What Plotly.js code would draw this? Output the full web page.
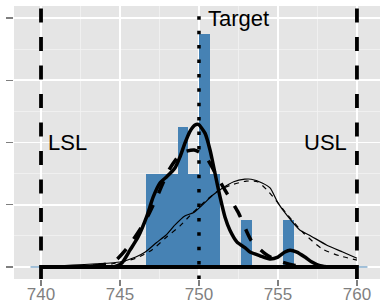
<!DOCTYPE html>
<html>
<head>
<meta charset="utf-8">
<script src="https://cdn.plot.ly/plotly-3.0.1.min.js"></script>
<style>
html,body{margin:0;padding:0;background:#fff;}
#chart{width:381px;height:305px;}
</style>
</head>
<body>
<div id="chart"></div>
<script>
// ---- Data ----
// Histogram: 32 bins of width 2/3 starting at 739.333
var binStart = 739 + 1/3;
var binWidth = 2/3;
var counts = [0,0,0,0,0,0,0,0,0,0,0,2,2,2,3,2,5,2,0,0,1,0,0,0,1,0,0,0,0,0,0,0];

// Specification limits
var LSL = 740, TARGET = 750, USL = 760;
var specLabels = ["LSL", "Target", "USL"];

// Kernel density of the sample (thick solid)
var kdeX = [740, 744.0, 744.7, 745.11, 745.63, 746.16, 746.69, 747.11, 747.53, 747.96, 748.48, 748.80, 749.11, 749.43, 749.75, 749.96, 750.38, 750.70, 751.01, 751.33, 751.65, 751.96, 752.41, 752.91, 753.23, 753.86, 754.49, 755.0, 755.44, 755.76, 756.20, 756.71, 757.15, 757.66, 758.3, 760];
var kdeY = [0, 0, 0.001, 0.006, 0.027, 0.049, 0.081, 0.113, 0.135, 0.145, 0.159, 0.177, 0.199, 0.218, 0.228, 0.229, 0.215, 0.188, 0.151, 0.113, 0.080, 0.059, 0.040, 0.031, 0.024, 0.018, 0.013, 0.016, 0.024, 0.027, 0.024, 0.016, 0.008, 0.002, 0, 0];

// Normal fit of the sample (thick dashed)
var normX = [740, 742.5, 743.5, 744.6, 745.5, 746.6, 747.4, 748.1, 748.9, 749.7, 750.4, 751.2, 751.8, 752.5, 753.3, 754.2, 755.0, 756.0, 757.0, 760];
var normY = [0, 0, 0.002, 0.008, 0.032, 0.074, 0.116, 0.156, 0.183, 0.188, 0.178, 0.143, 0.117, 0.087, 0.043, 0.021, 0.010, 0.003, 0, 0];

// Process density (thin solid)
var procX = [740, 742.0, 743.5, 745.0, 746.0, 746.6, 747.3, 747.9, 748.5, 749.1, 749.7, 750.9, 751.5, 752.2, 752.9, 753.3, 754.0, 754.5, 755.0, 755.6, 756.4, 757.0, 758.1, 759.1, 760];
var procY = [0, 0.003, 0.005, 0.008, 0.016, 0.024, 0.039, 0.051, 0.068, 0.082, 0.088, 0.116, 0.127, 0.137, 0.141, 0.141, 0.135, 0.127, 0.103, 0.082, 0.059, 0.051, 0.035, 0.024, 0.014];

// Process normal-type density (thin dashed)
var proc2X = [740, 742.5, 744.5, 746.0, 747.0, 747.9, 748.8, 749.6, 750.5, 751.3, 752.2, 753.0, 753.7, 754.3, 755.0, 755.6, 756.6, 757.8, 758.9, 760];
var proc2Y = [0, 0.002, 0.005, 0.014, 0.027, 0.047, 0.066, 0.087, 0.108, 0.124, 0.133, 0.138, 0.137, 0.124, 0.103, 0.084, 0.055, 0.029, 0.018, 0.011];

// ---- Build traces ----
var n = counts.reduce(function(a,b){return a+b;}, 0);
var centers = counts.map(function(_, i){ return binStart + (i + 0.5) * binWidth; });
var dens = counts.map(function(c){ return c / (n * binWidth); });
var binEnd = binStart + counts.length * binWidth;

var steel = "#4682B4";
var traces = [
  {type:"bar", x:centers, y:dens, width:binWidth, marker:{color:steel, line:{width:0}}, hoverinfo:"skip"},
  {type:"scatter", mode:"lines", x:[binStart, binEnd], y:[0,0], line:{color:steel, width:1}, hoverinfo:"skip"},
  {type:"scatter", mode:"lines", x:procX, y:procY, line:{color:"#000", width:1.2, shape:"spline", smoothing:0.6}, hoverinfo:"skip"},
  {type:"scatter", mode:"lines", x:proc2X, y:proc2Y, line:{color:"#000", width:1.2, dash:"5px,5px", shape:"spline", smoothing:0.6}, hoverinfo:"skip"},
  {type:"scatter", mode:"lines", x:normX, y:normY, line:{color:"#000", width:3.5, dash:"13px,13px", shape:"spline", smoothing:0.6}, hoverinfo:"skip"},
  {type:"scatter", mode:"lines", x:kdeX, y:kdeY, line:{color:"#000", width:3.5, shape:"spline", smoothing:0.6}, hoverinfo:"skip"},
  // baseline of the density area outline
  {type:"scatter", mode:"lines", x:[kdeX[0], kdeX[kdeX.length-1]], y:[0,0], line:{color:"#000", width:4}, hoverinfo:"skip"}
];

var limits = [LSL, TARGET, USL];
var shapes = limits.map(function(v, i){
  return {type:"line", xref:"x", yref:"paper", x0:v, x1:v, y0:0, y1:1, layer:"above",
    line:{color:"#000", width: i === 1 ? 3.5 : 3.8, dash: i === 1 ? "3.5px,10.9px" : "14px,14.5px"}};
});

var annFont = {family:"Liberation Sans, Arial, sans-serif", size:22, color:"#000"};
var annotations = [
  {x:LSL, y:0.2, xref:"x", yref:"y", text:specLabels[0], showarrow:false, xanchor:"left", yanchor:"middle", xshift:4.5, font:annFont},
  {x:TARGET, y:0.4, xref:"x", yref:"y", text:specLabels[1], showarrow:false, xanchor:"left", yanchor:"middle", xshift:7.5, font:annFont},
  {x:USL, y:0.2, xref:"x", yref:"y", text:specLabels[2], showarrow:false, xanchor:"right", yanchor:"middle", xshift:-8, font:annFont}
];

var layout = {
  width:381, height:305,
  margin:{l:14, r:1, t:6, b:26, pad:0},
  paper_bgcolor:"#fff", plot_bgcolor:"#E5E5E5",
  showlegend:false, bargap:0,
  xaxis:{range:[738.29, 761.46], tickmode:"linear", tick0:740, dtick:5,
    showgrid:true, gridcolor:"#fff", gridwidth:1.6, zeroline:false, showline:false,
    ticks:"outside", ticklen:6, tickwidth:1.4, tickcolor:"#7F7F7F", ticklabelstandoff:-6,
    tickfont:{family:"Liberation Sans, Arial, sans-serif", size:17, color:"#7F7F7F"},
    minor:{dtick:2.5, tick0:740, showgrid:true, gridcolor:"#F2F2F2", gridwidth:0.8, ticks:""}},
  yaxis:{range:[-0.0193, 0.4193], tickmode:"linear", tick0:0, dtick:0.1,
    showgrid:true, gridcolor:"#fff", gridwidth:1.6, zeroline:false, showline:false,
    ticks:"outside", ticklen:7, tickwidth:1.4, tickcolor:"#7F7F7F", showticklabels:false,
    minor:{dtick:0.05, tick0:0, showgrid:true, gridcolor:"#F2F2F2", gridwidth:0.8, ticks:""}},
  shapes:shapes,
  annotations:annotations
};

Plotly.newPlot("chart", traces, layout, {displayModeBar:false, staticPlot:true});
</script>
</body>
</html>
